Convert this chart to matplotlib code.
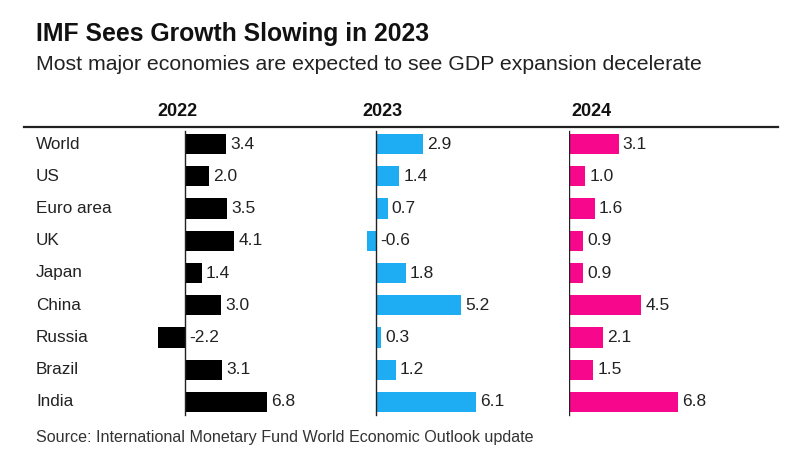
import matplotlib
matplotlib.use("Agg")
import matplotlib.pyplot as plt

countries = ["World", "US", "Euro area", "UK", "Japan", "China", "Russia", "Brazil", "India"]
years = ["2022", "2023", "2024"]
g2022 = [3.4, 2.0, 3.5, 4.1, 1.4, 3.0, -2.2, 3.1, 6.8]
g2023 = [2.9, 1.4, 0.7, -0.6, 1.8, 5.2, 0.3, 1.2, 6.1]
g2024 = [3.1, 1.0, 1.6, 0.9, 0.9, 4.5, 2.1, 1.5, 6.8]
series = [g2022, g2023, g2024]
colors = ["#000000", "#1EADF2", "#F7078C"]

title = "IMF Sees Growth Slowing in 2023"
subtitle = "Most major economies are expected to see GDP expansion decelerate"
source = "Source: International Monetary Fund World Economic Outlook update"

W, H = 800, 455
fig = plt.figure(figsize=(W / 100, H / 100), dpi=100)
fig.patch.set_facecolor("white")

def fx(x):
    return x / W

def fy(y):
    return 1 - y / H

FONT = ["Liberation Sans", "DejaVu Sans"]

fig.text(fx(36), fy(41), title, fontsize=17.8, fontweight="bold", family=FONT,
         va="baseline", ha="left", color="#111111")
fig.text(fx(36), fy(70.5), subtitle, fontsize=15.3, family=FONT,
         va="baseline", ha="left", color="#222222")
fig.text(fx(36), fy(442), source, fontsize=11.6, family=FONT,
         va="baseline", ha="left", color="#333333")

# top rule
fig.add_artist(plt.Line2D([fx(24), fx(778)], [fy(127), fy(127)], color="#222222", lw=1.6))

# panel layout (pixels): left edge at panel min, width spanning data range
panel_left = [158, 366.5, 569]
panel_width = 109
header_x = [177.5, 382, 591]
top_px, bot_px = 128, 418

for i, (vals, col) in enumerate(zip(series, colors)):
    vmin = min(0, min(vals))
    vmax = max(vals)
    ax = fig.add_axes([fx(panel_left[i]), fy(bot_px), panel_width / W, (bot_px - top_px) / H])
    ax.set_xlim(vmin, vmax)
    ax.set_ylim(len(countries) - 0.5, -0.5)
    ax.barh(range(len(countries)), vals, height=0.63, color=col, zorder=2)
    ax.axvline(0, color="#222222", lw=1.0, zorder=3, ymin=0.01, ymax=0.99)
    for j, v in enumerate(vals):
        ax.annotate(f"{v:.1f}", xy=(max(v, 0), j), xytext=(3, 0), textcoords="offset points",
                    va="center", ha="left", fontsize=12.5, family=FONT, color="#222222",
                    annotation_clip=False)
    ax.axis("off")
    fig.text(fx(header_x[i]), fy(116.5), years[i], fontsize=13, fontweight="bold", family=FONT,
             ha="center", va="baseline", color="#111111")

# row labels
row_ax = fig.add_axes([fx(36), fy(bot_px), 0.1, (bot_px - top_px) / H])
row_ax.set_ylim(len(countries) - 0.5, -0.5)
row_ax.set_xlim(0, 1)
row_ax.axis("off")
for j, c in enumerate(countries):
    row_ax.text(0, j, c, fontsize=12.3, family=FONT, va="center", ha="left", color="#222222")

fig.savefig("out.png", dpi=100, facecolor="white")
